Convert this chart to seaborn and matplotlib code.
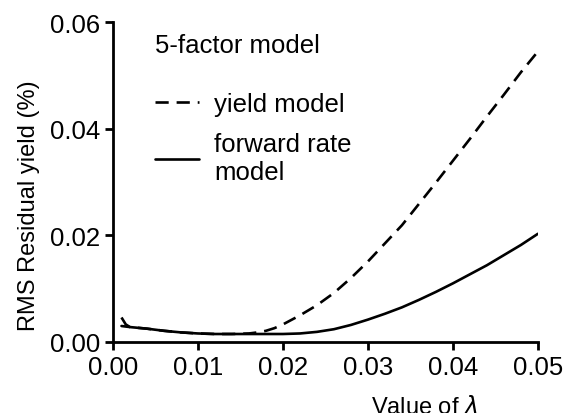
import numpy as np
import pandas as pd
import matplotlib
matplotlib.use('Agg')
import matplotlib.pyplot as plt
import seaborn as sns

# values
lam = [0.001, 0.0015, 0.002, 0.004, 0.006, 0.008, 0.010, 0.012, 0.014, 0.016,
       0.017, 0.018, 0.019, 0.020, 0.022, 0.024, 0.026, 0.028, 0.030, 0.032,
       0.034, 0.036, 0.038, 0.040, 0.042, 0.044, 0.046, 0.048, 0.050]
rms_yield = [0.0046, 0.0033, 0.0028, 0.0025, 0.0021, 0.0018, 0.0016, 0.0015, 0.0015, 0.0016,
             0.0018, 0.0021, 0.0026, 0.0033, 0.0050, 0.0069, 0.0092, 0.0120, 0.0151, 0.0185,
             0.0219, 0.0259, 0.0299, 0.0340, 0.0381, 0.0423, 0.0464, 0.0506, 0.0545]
rms_forward = [0.0030, 0.0029, 0.0028, 0.0025, 0.0021, 0.0018, 0.0016, 0.0015, 0.0015, 0.0015,
               0.0015, 0.0015, 0.0015, 0.0015, 0.0016, 0.0019, 0.0024, 0.0032, 0.0042, 0.0053,
               0.0065, 0.0079, 0.0094, 0.0110, 0.0127, 0.0144, 0.0163, 0.0182, 0.0203]

df = pd.DataFrame({'lam': lam, 'yield': rms_yield, 'forward': rms_forward})

sns.set_style('ticks')
plt.rcParams['font.family'] = ['Liberation Sans', 'DejaVu Sans']
plt.rcParams['mathtext.fontset'] = 'dejavusans'
for k in ['text.color', 'axes.labelcolor', 'xtick.color', 'ytick.color']:
    plt.rcParams[k] = 'black'

fig = plt.figure(figsize=(5.65, 4.14), dpi=100)
ax = fig.add_axes([0.2, 0.1715, 0.752, 0.7725])

sns.lineplot(data=df, x='lam', y='yield', ax=ax, color='black', lw=1.9,
             dashes=False, label='yield model')
ax.lines[-1].set_dashes((5, 3))
sns.lineplot(data=df, x='lam', y='forward', ax=ax, color='black', lw=1.9,
             label='forward rate\nmodel')

ax.set_xlim(0, 0.05)
ax.set_ylim(0, 0.06)
ax.set_xticks([0.00, 0.01, 0.02, 0.03, 0.04, 0.05])
ax.set_xticklabels(['0.00', '0.01', '0.02', '0.03', '0.04', '0.05'])
ax.set_yticks([0.00, 0.02, 0.04, 0.06])
ax.set_yticklabels(['0.00', '0.02', '0.04', '0.06'])
ax.tick_params(labelsize=18.5, width=2, length=6, direction='out', color='black')
for s in ['left', 'bottom']:
    ax.spines[s].set_linewidth(2)
    ax.spines[s].set_color('black')
sns.despine(ax=ax)

ax.set_xlabel(r'Value of $\lambda$', fontsize=17)
ax.xaxis.set_label_coords(0.734, -0.165)
ax.set_ylabel('RMS Residual yield (%)', fontsize=17)
ax.yaxis.set_label_coords(-0.172, 0.43)

ax.text(0.099, 0.93, '5-factor model', transform=ax.transAxes, fontsize=18.5,
        ha='left', va='center')
leg = ax.legend(loc='upper left', bbox_to_anchor=(0.045, 0.855),
                frameon=False, fontsize=18.5,
                handlelength=1.7, handletextpad=0.6, labelspacing=0.65)

fig.savefig('out.png', dpi=100)
